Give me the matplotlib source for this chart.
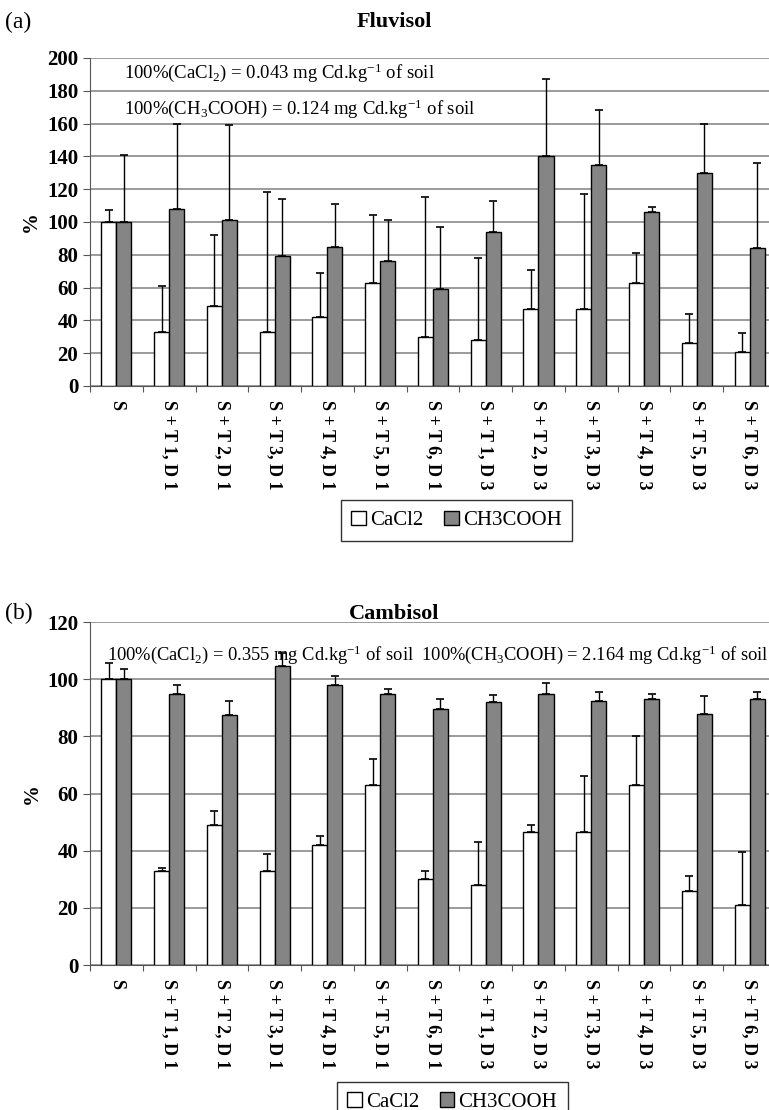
import numpy as np
import matplotlib
matplotlib.use("Agg")
import matplotlib.pyplot as plt

plt.rcParams['font.family'] = ['Liberation Serif', 'DejaVu Serif']
plt.rcParams['mathtext.fontset'] = 'custom'
plt.rcParams['mathtext.rm'] = 'Liberation Serif'
plt.rcParams['mathtext.it'] = 'Liberation Serif'

categories = ["S", "S + T 1, D 1", "S + T 2, D 1", "S + T 3, D 1", "S + T 4, D 1",
              "S + T 5, D 1", "S + T 6, D 1", "S + T 1, D 3", "S + T 2, D 3",
              "S + T 3, D 3", "S + T 4, D 3", "S + T 5, D 3", "S + T 6, D 3"]

# Fluvisol (a)
fluv_cacl2 = [100, 33, 49, 33, 42, 63, 30, 28, 47, 47, 63, 26, 21]
fluv_cacl2_top = [107, 61, 92, 118, 69, 104, 115, 78, 71, 117, 81, 44, 32]
fluv_ch3 = [100, 108, 101, 79, 85, 76, 59, 94, 140, 135, 106, 130, 84]
fluv_ch3_top = [141, 160, 159, 114, 111, 101, 97, 113, 187, 168, 109, 160, 136]

# Cambisol (b)
camb_cacl2 = [100, 33, 49, 33, 42, 63, 30, 28, 46.5, 46.5, 63, 26, 21]
camb_cacl2_top = [105.5, 34, 54, 39, 45, 72, 33, 43, 49, 66, 80, 31, 39.5]
camb_ch3 = [100, 95, 87.5, 104.5, 98, 95, 89.5, 92, 95, 92.5, 93, 88, 93]
camb_ch3_top = [103.5, 98, 92.5, 109, 101, 96.5, 93, 94.5, 98.5, 95.5, 95, 94, 95.5]


def draw_panel(ax, cacl2, cacl2_top, ch3, ch3_top, ymax, ystep):
    x = np.arange(len(categories))
    w = 0.285
    err1 = np.array(cacl2_top) - np.array(cacl2)
    err2 = np.array(ch3_top) - np.array(ch3)
    ax.bar(x - w / 2, cacl2, w, color='white', edgecolor='black', linewidth=1.0,
           label='CaCl2', zorder=2)
    ax.bar(x + w / 2, ch3, w, color='#858585', edgecolor='black', linewidth=1.0,
           label='CH3COOH', zorder=2)
    ax.errorbar(x - w / 2, cacl2, yerr=[np.zeros(len(x)), err1], fmt='none',
                ecolor='black', elinewidth=1.0, capsize=2.8, capthick=1.2, zorder=3)
    ax.errorbar(x + w / 2, ch3, yerr=[np.zeros(len(x)), err2], fmt='none',
                ecolor='black', elinewidth=1.0, capsize=2.8, capthick=1.2, zorder=3)
    ax.set_xlim(-0.5, len(x) - 0.5)
    ax.set_ylim(0, ymax)
    ax.set_yticks(np.arange(0, ymax + 1, ystep))
    ax.yaxis.grid(True, color='#8a8a8a', linewidth=1.2, zorder=0)
    ax.set_axisbelow(True)
    ax.spines['top'].set_visible(False)
    ax.spines['right'].set_visible(False)
    ax.spines['left'].set_color('#555555')
    ax.spines['bottom'].set_color('#555555')
    ax.set_xticks(np.arange(len(x) + 1) - 0.5, minor=False)
    ax.set_xticklabels([])
    ax.set_xticks(x, minor=True)
    ax.set_xticklabels(categories, minor=True, rotation=-90, fontsize=13,
                       fontweight='bold', va='top', ha='center')
    ax.tick_params(axis='x', which='minor', length=0, pad=10)
    ax.tick_params(axis='x', which='major', length=4, direction='out', color='#555555')
    ax.tick_params(axis='y', length=5, direction='out', color='#555555', labelsize=15)
    for lab in ax.get_yticklabels():
        lab.set_fontweight('bold')
    ax.set_ylabel('%', fontsize=15, fontweight='bold', labelpad=4)


fig = plt.figure(figsize=(7.69, 11.10), dpi=100)

ax1 = fig.add_axes([0.117, 0.6523, 0.892, 0.2955])
draw_panel(ax1, fluv_cacl2, fluv_cacl2_top, fluv_ch3, fluv_ch3_top, 200, 20)
ax1.text(0.05, 0.955, '100%(CaCl$_2$) = 0.043 mg Cd.kg$^{-1}$ of soil',
         transform=ax1.transAxes, fontsize=13.5, va='center')
ax1.text(0.05, 0.845, '100%(CH$_3$COOH) = 0.124 mg Cd.kg$^{-1}$ of soil',
         transform=ax1.transAxes, fontsize=13.5, va='center')
fig.text(0.513, 0.980, 'Fluvisol', fontsize=16, fontweight='bold', ha='center', va='center')
fig.text(0.006, 0.980, '(a)', fontsize=17, ha='left', va='center')
ax1.legend(loc='center', bbox_to_anchor=(0.534, -0.41),
           ncol=2, frameon=True, fancybox=False, edgecolor='black', fontsize=15,
           handlelength=0.7, handleheight=0.7, handletextpad=0.2, columnspacing=1.0,
           borderpad=0.5)

ax2 = fig.add_axes([0.117, 0.1306, 0.892, 0.309])
draw_panel(ax2, camb_cacl2, camb_cacl2_top, camb_ch3, camb_ch3_top, 120, 20)
ax2.text(0.025, 0.905,
         '100%(CaCl$_2$) = 0.355 mg Cd.kg$^{-1}$ of soil  100%(CH$_3$COOH) = 2.164 mg Cd.kg$^{-1}$ of soil',
         transform=ax2.transAxes, fontsize=13.3, va='center')
fig.text(0.513, 0.447, 'Cambisol', fontsize=16, fontweight='bold', ha='center', va='center')
fig.text(0.006, 0.447, '(b)', fontsize=17, ha='left', va='center')
ax2.legend(loc='center', bbox_to_anchor=(0.528, -0.40),
           ncol=2, frameon=True, fancybox=False, edgecolor='black', fontsize=15,
           handlelength=0.7, handleheight=0.7, handletextpad=0.2, columnspacing=1.0,
           borderpad=0.5)

fig.savefig('out.png', dpi=100)
